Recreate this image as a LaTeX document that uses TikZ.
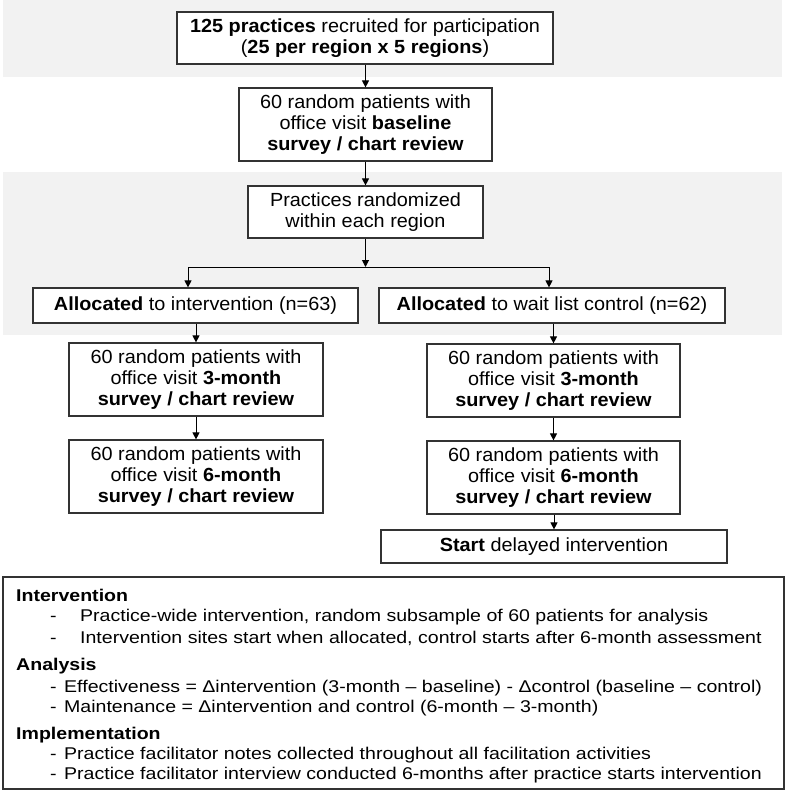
\documentclass[tikz,border=0pt]{standalone}
\usepackage{fontspec}
\setmainfont{Liberation Sans}
\newfontfamily\boxfont[FakeStretch=1.045]{Liberation Sans}
\newfontfamily\notefont[FakeStretch=1.15]{Liberation Sans}
\usetikzlibrary{arrows.meta}

\tikzset{
  box/.style={draw=black!80, fill=white, line width=1.2pt, align=center, inner sep=0pt,
    font=\boxfont\fontsize{19}{21}\selectfont},
  link/.style={-{Triangle[length=7pt,width=7pt]}, line width=1pt},
  band/.style={fill=black!5, draw=none},
  note/.style={anchor=base west, inner sep=0pt, font=\notefont\fontsize{17}{20}\selectfont},
}

\begin{document}
\begin{tikzpicture}[x=1pt,y=-1pt]
        \useasboundingbox (0,0) rectangle (787,792);

        % shaded bands
        \fill[band] (3,0) rectangle (782,77);
        \fill[band] (3,172) rectangle (782,335);

        % enrolment
        \node[box, minimum width=376pt, minimum height=52pt] (recruit) at (365,38)
            {\textbf{125 practices} recruited for participation\\(\textbf{25 per region x 5 regions})};
        \node[box, minimum width=253pt, minimum height=73pt] (baseline) at (365.5,124.5)
            {60 random patients with\\office visit \textbf{baseline}\\\textbf{survey / chart review}};
        \node[box, minimum width=235pt, minimum height=52pt] (random) at (365.5,212)
            {Practices randomized\\within each region};

        % allocation
        \node[box, minimum width=325pt, minimum height=35pt] (allocI) at (195.5,305.5)
            {\textbf{Allocated} to intervention (n=63)};
        \node[box, minimum width=346pt, minimum height=35pt] (allocC) at (552,305.5)
            {\textbf{Allocated} to wait list control (n=62)};

        % follow-up
        \node[box, minimum width=254pt, minimum height=73pt] (threeI) at (196,379.5)
            {60 random patients with\\office visit \textbf{3-month}\\\textbf{survey / chart review}};
        \node[box, minimum width=254pt, minimum height=73pt] (sixI) at (196,476.5)
            {60 random patients with\\office visit \textbf{6-month}\\\textbf{survey / chart review}};
        \node[box, minimum width=253pt, minimum height=73pt] (threeC) at (553.5,380.5)
            {60 random patients with\\office visit \textbf{3-month}\\\textbf{survey / chart review}};
        \node[box, minimum width=253pt, minimum height=73pt] (sixC) at (553.5,477.5)
            {60 random patients with\\office visit \textbf{6-month}\\\textbf{survey / chart review}};
        \node[box, minimum width=346pt, minimum height=33pt] (start) at (554,546.5)
            {\textbf{Start} delayed intervention};

        % connectors
        \coordinate (split) at (365.5,267);
        \coordinate (splitL) at (188,267);
        \coordinate (splitR) at (549,267);
        \draw[link] (recruit.south -| baseline.north) -- (baseline.north);
        \draw[link] (baseline) -- (random);
        \draw[link] (random.south) -- (split);
        \draw[line width=1pt] (splitL) -- (splitR);
        \draw[link] (splitL) -- (splitL |- allocI.north);
        \draw[link] (splitR) -- (splitR |- allocC.north);
        \draw[link] (allocI.south -| threeI.north) -- (threeI.north);
        \draw[link] (threeI) -- (sixI);
        \draw[link] (allocC.south -| threeC.north) -- (threeC.north);
        \draw[link] (threeC) -- (sixC);
        \draw[link] (sixC.south -| start.north) -- (start.north);

        % notes panel
        \node[draw=black!80, line width=1.2pt, minimum width=781pt, minimum height=212pt, inner sep=0pt] (notes) at (393.5,683) {};
        \node[note] (hInt) at (16,601) {\textbf{Intervention}};
        \node[note] (nInt1) at (50,621) {\makebox[30pt][l]{-}Practice-wide intervention, random subsample of 60 patients for analysis};
        \node[note] (nInt2) at (50,643) {\makebox[30pt][l]{-}Intervention sites start when allocated, control starts after 6-month assessment};
        \node[note] (hAna) at (16,670) {\textbf{Analysis}};
        \node[note] (nAna1) at (50,692) {\makebox[14pt][l]{-}Effectiveness = Δintervention (3-month – baseline) - Δcontrol (baseline – control)};
        \node[note] (nAna2) at (50,712) {\makebox[14pt][l]{-}Maintenance = Δintervention and control (6-month – 3-month)};
        \node[note] (hImp) at (16,739) {\textbf{Implementation}};
        \node[note] (nImp1) at (50,759) {\makebox[14pt][l]{-}Practice facilitator notes collected throughout all facilitation activities};
        \node[note] (nImp2) at (50,779) {\makebox[14pt][l]{-}Practice facilitator interview conducted 6-months after practice starts intervention};
\end{tikzpicture}
\end{document}
